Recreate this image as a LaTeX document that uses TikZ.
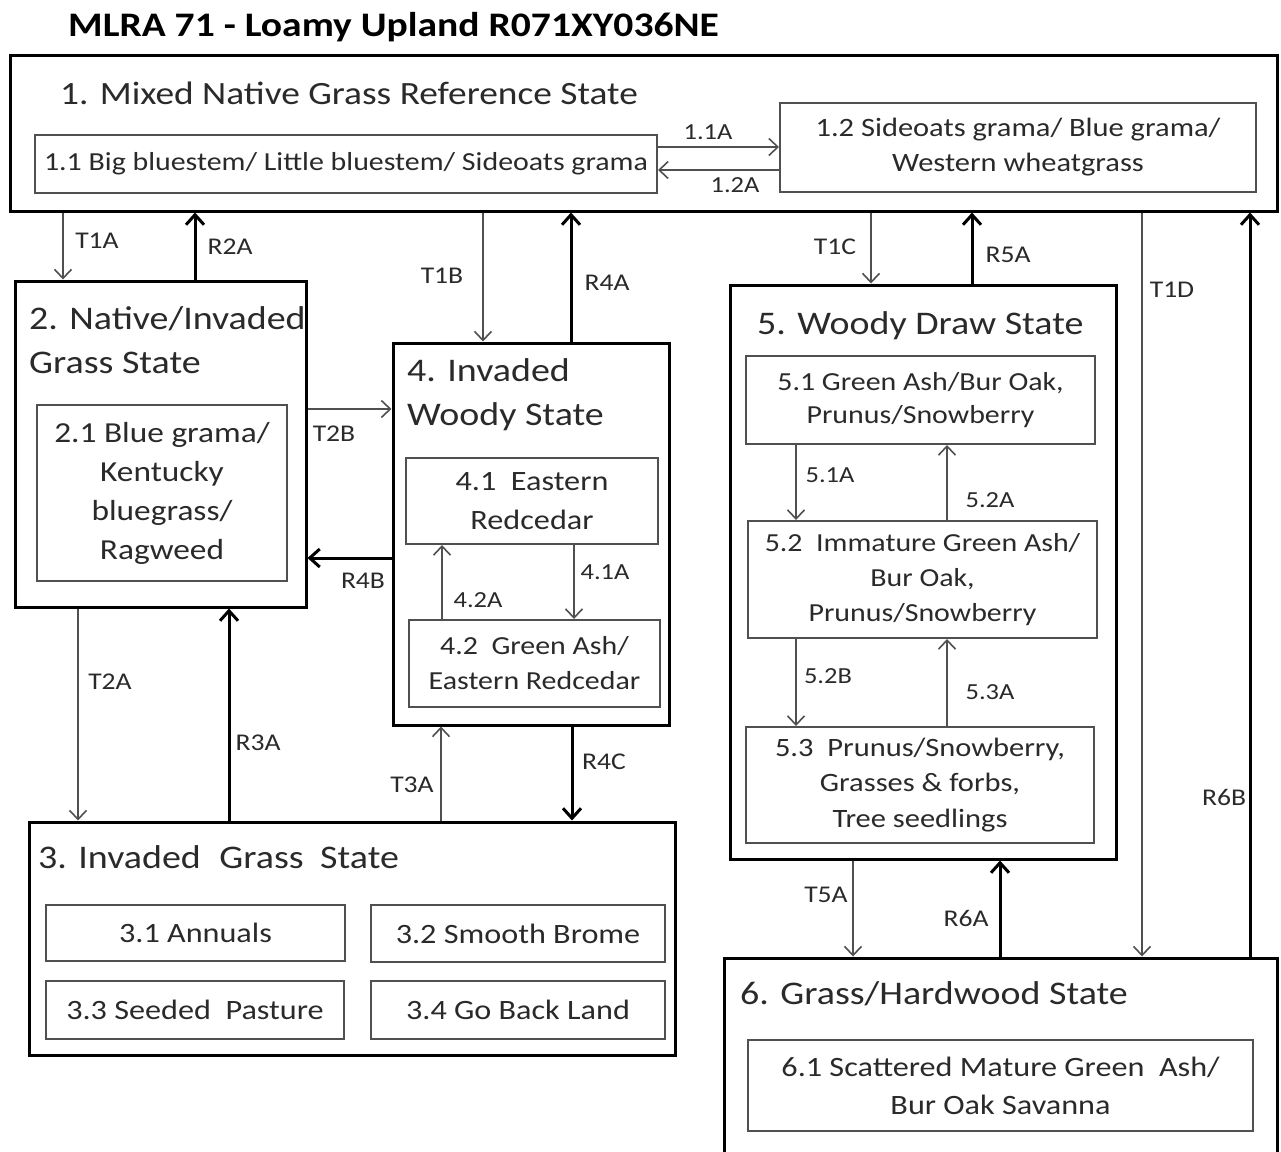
\documentclass[tikz,border=0pt]{standalone}
\usepackage{fontspec}
\setmainfont{Carlito}[FakeStretch=1.15]
\usetikzlibrary{arrows.meta}
\definecolor{txt}{HTML}{2A2A2A}
\definecolor{ln}{HTML}{505050}
\begin{document}
\begin{tikzpicture}[x=1pt,y=-1pt,
  statebox/.style={draw=black, line width=3pt, inner sep=0pt, fill=white},
  subbox/.style={draw=ln, line width=2pt, inner sep=0pt, align=center, text=txt, font=\fontsize{26}{35}\selectfont},
  sttitle/.style={inner sep=0pt, anchor=west, align=left, text=txt, font=\fontsize{33}{44}\selectfont},
  lbl/.style={inner sep=0pt, text=txt, font=\fontsize{24}{26}\selectfont},
  slbl/.style={inner sep=0pt, text=txt, font=\fontsize{23}{24}\selectfont},
  tarr/.style={draw=ln, line width=1.6pt, -{Straight Barb[length=9pt,width=17pt,line width=1.6pt]}},
  rarr/.style={draw=black, line width=3pt, -{Straight Barb[length=10pt,width=18pt,line width=3pt]}}
]
\clip (0,0) rectangle (1281,1151);
\fill[white] (0,0) rectangle (1281,1151);

\node[inner sep=0pt, anchor=west, font=\fontsize{34.4}{40}\selectfont\bfseries] (title) at (68,27) {MLRA 71 - Loamy Upland R071XY036NE};

% State boxes
\node[statebox, minimum width=1267pt, minimum height=156pt] (b1) at (643.5,133) {};
\node[statebox, minimum width=291pt, minimum height=326pt] (b2) at (160.5,444) {};
\node[statebox, minimum width=276pt, minimum height=382pt] (b4) at (531,534) {};
\node[statebox, minimum width=646pt, minimum height=233pt] (b3) at (352,938.5) {};
\node[statebox, minimum width=386pt, minimum height=574pt] (b5) at (923,572) {};
\node[statebox, minimum width=553pt, minimum height=212pt] (b6) at (1000.5,1064) {};

% State titles
\node[sttitle, font=\fontsize{32.5}{44}\selectfont] (t1) at (60,93) {1. Mixed Native Grass Reference State};
\node[sttitle] (t2) at (29,340) {2. Native/Invaded\\Grass State};
\node[sttitle] (t4) at (407,395) {4. Invaded\\Woody State};
\node[sttitle] (t3) at (38,857) {3. Invaded\hspace{10pt} Grass\hspace{8pt} State};
\node[sttitle] (t5) at (757,326) {5. Woody Draw State};
\node[sttitle] (t6) at (740,994) {6. Grass/Hardwood State};

% Community boxes
\node[subbox, minimum width=622pt, minimum height=58pt] (s11) at (346,164) {1.1 Big bluestem/ Little bluestem/ Sideoats grama};
\node[subbox, minimum width=476pt, minimum height=89pt, font=\fontsize{26.5}{35}\selectfont] (s12) at (1018,147.5) {1.2 Sideoats grama/ Blue grama/\\Western wheatgrass};
\node[subbox, minimum width=250pt, minimum height=176pt, font=\fontsize{29}{39}\selectfont] (s21) at (162,493) {2.1 Blue grama/\\Kentucky\\bluegrass/\\Ragweed};
\node[subbox, minimum width=252pt, minimum height=86pt, font=\fontsize{28}{39}\selectfont] (s41) at (532,501) {4.1\ \ Eastern\\Redcedar};
\node[subbox, minimum width=251pt, minimum height=87pt] (s42) at (534.5,663.5) {4.2\ \ Green Ash/\\Eastern Redcedar};
\node[subbox, minimum width=299pt, minimum height=56pt, font=\fontsize{28}{35}\selectfont] (s31) at (195.5,933) {3.1 Annuals};
\node[subbox, minimum width=294pt, minimum height=57pt, font=\fontsize{28}{35}\selectfont] (s32) at (518,933.5) {3.2 Smooth Brome};
\node[subbox, minimum width=298pt, minimum height=58pt, font=\fontsize{28}{35}\selectfont] (s33) at (195,1010) {3.3 Seeded\ \ Pasture};
\node[subbox, minimum width=294pt, minimum height=58pt, font=\fontsize{28}{35}\selectfont] (s34) at (518,1010) {3.4 Go Back Land};
\node[subbox, minimum width=349pt, minimum height=88pt, font=\fontsize{26}{33}\selectfont] (s51) at (920.5,400) {5.1 Green Ash/Bur Oak,\\Prunus/Snowberry};
\node[subbox, minimum width=349pt, minimum height=117pt, font=\fontsize{26}{35}\selectfont] (s52) at (922.5,579.5) {5.2\ \ Immature\ Green Ash/\\Bur Oak,\\Prunus/Snowberry};
\node[subbox, minimum width=348pt, minimum height=116pt, font=\fontsize{26.5}{35.5}\selectfont] (s53) at (920,785) {5.3\ \ Prunus/Snowberry,\\Grasses \& forbs,\\Tree seedlings};
\node[subbox, minimum width=505pt, minimum height=91pt, font=\fontsize{28}{38}\selectfont] (s61) at (1000.5,1085.5) {6.1 Scattered Mature Green\ \ Ash/\\Bur Oak Savanna};

% Column / row coordinates for connectors
\coordinate (cT1A) at (63,0);
\coordinate (cR2A) at (195,0);
\coordinate (cT1B) at (483,0);
\coordinate (cR4A) at (571,0);
\coordinate (cT1C) at (871,0);
\coordinate (cR5A) at (972,0);
\coordinate (cT1D) at (1142,0);
\coordinate (cR6B) at (1250,0);
\coordinate (cT2A) at (78,0);
\coordinate (cR3A) at (229,0);
\coordinate (cT3A) at (441,0);
\coordinate (cR4C) at (572,0);
\coordinate (cT5A) at (853,0);
\coordinate (cR6A) at (1000,0);
\coordinate (c41A) at (574,0);
\coordinate (c42A) at (442,0);
\coordinate (c51A) at (796,0);
\coordinate (c52A) at (947,0);
\coordinate (rT2B) at (0,409);
\coordinate (rR4B) at (0,558);
\coordinate (r11A) at (0,147);
\coordinate (r12A) at (0,170);

% Within state 1
\draw[tarr] (s11.east |- r11A) -- (s12.west |- r11A);
\draw[tarr] (s12.west |- r12A) -- (s11.east |- r12A);
% Within state 4
\draw[tarr] (c41A |- s41.south) -- (c41A |- s42.north);
\draw[tarr] (c42A |- s42.north) -- (c42A |- s41.south);
% Within state 5
\draw[tarr] (c51A |- s51.south) -- (c51A |- s52.north);
\draw[tarr] (c52A |- s52.north) -- (c52A |- s51.south);
\draw[tarr] (c51A |- s52.south) -- (c51A |- s53.north);
\draw[tarr] (c52A |- s53.north) -- (c52A |- s52.south);

% Between states
\draw[tarr] (cT1A |- b1.south) -- (cT1A |- b2.north);
\draw[rarr] (cR2A |- b2.north) -- (cR2A |- b1.south);
\draw[tarr] (cT1B |- b1.south) -- (cT1B |- b4.north);
\draw[rarr] (cR4A |- b4.north) -- (cR4A |- b1.south);
\draw[tarr] (cT1C |- b1.south) -- (cT1C |- b5.north);
\draw[rarr] (cR5A |- b5.north) -- (cR5A |- b1.south);
\draw[tarr] (cT1D |- b1.south) -- (cT1D |- b6.north);
\draw[rarr] (cR6B |- b6.north) -- (cR6B |- b1.south);
\draw[tarr] (b2.east |- rT2B) -- (b4.west |- rT2B);
\draw[rarr] (b4.west |- rR4B) -- (b2.east |- rR4B);
\draw[tarr] (cT2A |- b2.south) -- (cT2A |- b3.north);
\draw[rarr] (cR3A |- b3.north) -- (cR3A |- b2.south);
\draw[tarr] (cT3A |- b3.north) -- (cT3A |- b4.south);
\draw[rarr] (cR4C |- b4.south) -- (cR4C |- b3.north);
\draw[tarr] (cT5A |- b5.south) -- (cT5A |- b6.north);
\draw[rarr] (cR6A |- b6.north) -- (cR6A |- b5.south);

% Labels
\node[slbl] (l11A) at (708,132) {1.1A};
\node[slbl] (l12A) at (735,185) {1.2A};
\node[slbl] (l41A) at (605,572) {4.1A};
\node[slbl] (l42A) at (478,600) {4.2A};
\node[slbl] (l51A) at (830,475) {5.1A};
\node[slbl] (l52A) at (990,500) {5.2A};
\node[slbl] (l52B) at (828,676) {5.2B};
\node[slbl] (l53A) at (990,692) {5.3A};
\node[lbl] (lT1A) at (97,241) {T1A};
\node[lbl] (lR2A) at (230,247) {R2A};
\node[lbl] (lT1B) at (442,276) {T1B};
\node[lbl] (lR4A) at (607,283) {R4A};
\node[lbl] (lT1C) at (835,247) {T1C};
\node[lbl] (lR5A) at (1008,255) {R5A};
\node[lbl] (lT1D) at (1172,290) {T1D};
\node[lbl] (lR6B) at (1224,797) {R6B};
\node[lbl] (lT2B) at (334,434) {T2B};
\node[lbl] (lR4B) at (363,581) {R4B};
\node[lbl] (lT2A) at (110,682) {T2A};
\node[lbl] (lR3A) at (258,743) {R3A};
\node[lbl] (lT3A) at (412,785) {T3A};
\node[lbl] (lR4C) at (604,762) {R4C};
\node[lbl] (lT5A) at (826,895) {T5A};
\node[lbl] (lR6A) at (966,918) {R6A};
\end{tikzpicture}
\end{document}
